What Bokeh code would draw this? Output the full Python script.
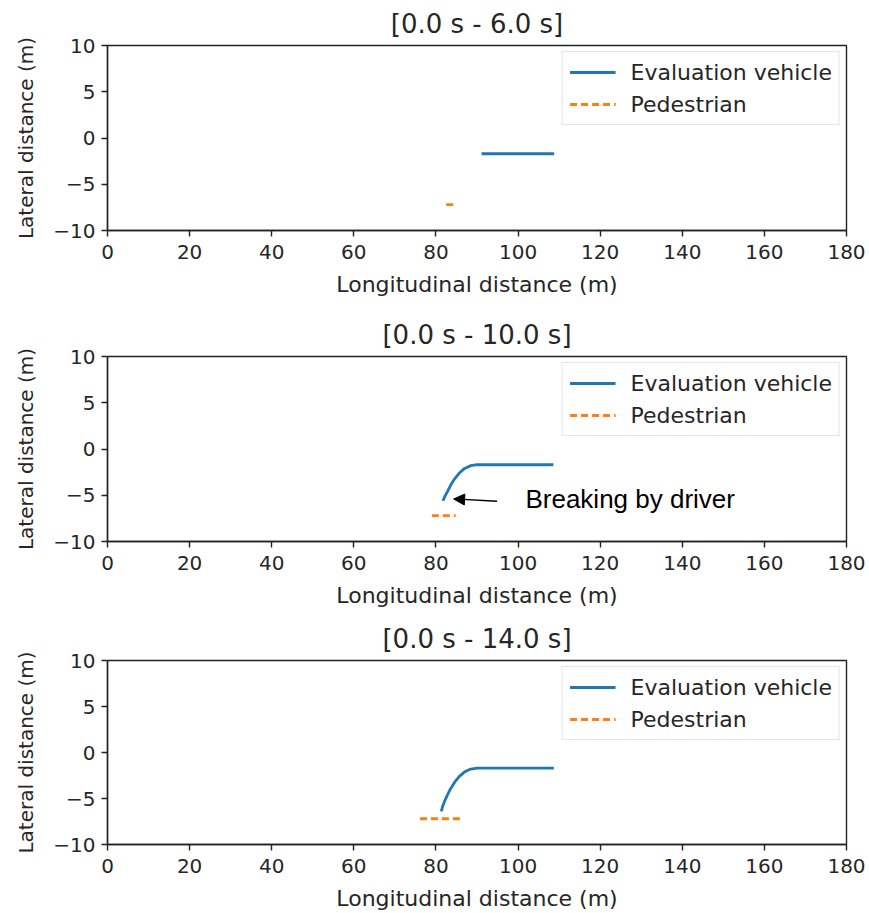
from bokeh.plotting import figure
from bokeh.layouts import column
from bokeh.models import Range1d, FixedTicker, CustomJSTickFormatter, Legend, LegendItem, Arrow, NormalHead, Label
from bokeh.embed import file_html
from bokeh.resources import INLINE

titles = ["[0.0 s - 6.0 s]", "[0.0 s - 10.0 s]", "[0.0 s - 14.0 s]"]

veh_x_1 = [108.8, 91.1]
veh_y_1 = [-1.7, -1.7]
ped_x_1 = [82.5, 84.3]
ped_y_1 = [-7.2, -7.2]

veh_x_2 = [108.6, 90.0, 88.5, 87.0, 85.7, 84.6, 83.6, 82.8, 82.2, 81.7]
veh_y_2 = [-1.7, -1.7, -1.8, -2.1, -2.6, -3.2, -3.9, -4.6, -5.1, -5.6]
ped_x_2 = [79.0, 84.8]
ped_y_2 = [-7.2, -7.2]

veh_x_3 = [108.7, 90.0, 88.5, 87.0, 85.7, 84.6, 83.6, 82.8, 82.1, 81.6, 81.3]
veh_y_3 = [-1.7, -1.7, -1.8, -2.1, -2.6, -3.2, -3.9, -4.6, -5.3, -5.9, -6.4]
ped_x_3 = [76.1, 86.0]
ped_y_3 = [-7.2, -7.2]

x_ticks = [0, 20, 40, 60, 80, 100, 120, 140, 160, 180]
y_ticks = [-10, -5, 0, 5, 10]

annot_text = "Breaking by driver"
annot_tail = (94.9, -5.65)
annot_head = (84.3, -5.4)
annot_pos = (101.8, -5.4)

panels = [
    (veh_x_1, veh_y_1, ped_x_1, ped_y_1),
    (veh_x_2, veh_y_2, ped_x_2, ped_y_2),
    (veh_x_3, veh_y_3, ped_x_3, ped_y_3),
]

# (height, top border, bottom border)
geoms = [(310, 44, 80), (305, 46, 74), (298, 45, 67)]

BLUE = "#1f77b4"
ORANGE = "#ff7f0e"
FONT = "DejaVu Sans"
TXT = "#262626"

fmt = CustomJSTickFormatter(code="return tick < 0 ? '\u2212' + Math.abs(tick) : String(tick);")

figs = []
for i, ((vx, vy, px, py), (h, bt, bb)) in enumerate(zip(panels, geoms)):
    p = figure(width=869, height=h, output_backend="svg", toolbar_location=None,
               x_range=Range1d(0, 180), y_range=Range1d(-10, 10),
               min_border_left=107, min_border_right=23, min_border_top=bt, min_border_bottom=bb)
    p.title.text = titles[i]
    p.title.align = "center"
    p.title.text_font = FONT
    p.title.text_font_size = "26px"
    p.title.text_font_style = "normal"
    p.title.text_color = TXT
    p.title.standoff = 13
    p.grid.visible = False
    p.outline_line_color = "#222222"
    p.outline_line_width = 1.4
    p.outline_line_alpha = 1.0
    for ax in (p.xaxis[0], p.yaxis[0]):
        ax.axis_line_color = "#222222"
        ax.axis_line_width = 1.4
        ax.major_tick_line_color = "#222222"
        ax.major_tick_line_width = 1.4
        ax.major_tick_out = 6
        ax.major_tick_in = 0
        ax.minor_tick_line_color = None
        ax.major_label_text_font = FONT
        ax.major_label_text_font_size = "20px"
        ax.major_label_text_color = TXT
        ax.axis_label_text_font = FONT
        ax.axis_label_text_font_style = "normal"
        ax.axis_label_text_color = TXT
        ax.formatter = fmt
    p.xaxis[0].ticker = FixedTicker(ticks=x_ticks)
    p.yaxis[0].ticker = FixedTicker(ticks=y_ticks)
    p.xaxis[0].axis_label = "Longitudinal distance (m)"
    p.yaxis[0].axis_label = "Lateral distance (m)"
    p.xaxis[0].axis_label_text_font_size = "22px"
    p.yaxis[0].axis_label_text_font_size = "20px"
    p.xaxis[0].major_label_standoff = 8
    p.yaxis[0].major_label_standoff = 6
    p.xaxis[0].axis_label_standoff = 10
    p.yaxis[0].axis_label_standoff = 12

    r1 = p.line(vx, vy, line_color=BLUE, line_width=2.8)
    r2 = p.line(px, py, line_color=ORANGE, line_width=2.8, line_dash="7 4")

    legend = Legend(items=[LegendItem(label="Evaluation vehicle", renderers=[r1]),
                           LegendItem(label="Pedestrian", renderers=[r2])],
                    location="top_right")
    legend.label_text_font = FONT
    legend.label_text_font_size = "22px"
    legend.label_text_color = TXT
    legend.glyph_width = 46
    legend.glyph_height = 26
    legend.label_height = 26
    legend.label_standoff = 15
    legend.spacing = 6
    legend.padding = 7
    legend.margin = 6
    legend.border_line_color = "#cccccc"
    legend.border_line_width = 1.2
    legend.background_fill_alpha = 0.8
    p.add_layout(legend)

    if i == 1:
        p.add_layout(Arrow(end=NormalHead(size=11, fill_color="black", line_color="black"),
                           x_start=annot_tail[0], y_start=annot_tail[1],
                           x_end=annot_head[0], y_end=annot_head[1],
                           line_color="black", line_width=1.3))
        p.add_layout(Label(x=annot_pos[0], y=annot_pos[1], text=annot_text,
                           text_font="Liberation Sans", text_font_size="26px",
                           text_color="black", text_baseline="middle", text_align="left"))
    figs.append(p)

layout = column(*figs, spacing=0)
open("out.html", "w").write(file_html(layout, INLINE))
